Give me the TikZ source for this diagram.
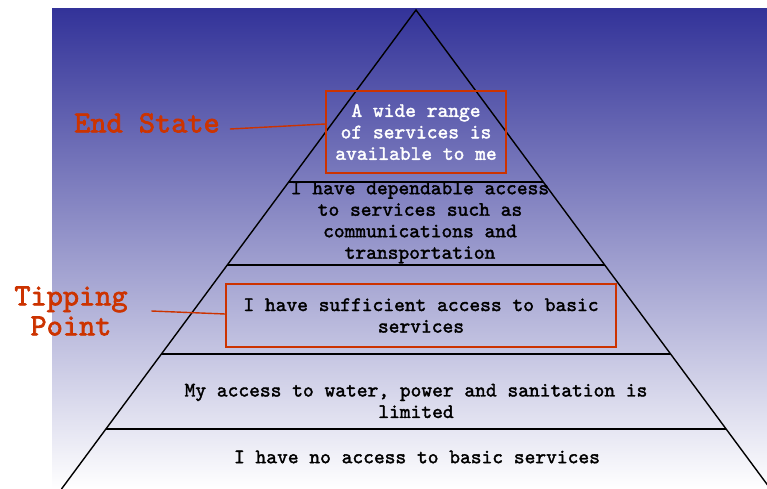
\documentclass[tikz,border=0pt]{standalone}
\usepackage{fontspec}
\newfontfamily\heavymono{lmmono10-regular}[Extension=.otf, FakeBold=1.8]
\newfontfamily\heavymonobig{lmmono10-regular}[Extension=.otf, FakeBold=2.2]
\definecolor{navy}{RGB}{51,51,153}
\definecolor{midlav}{RGB}{175,175,212}
\definecolor{accent}{RGB}{204,51,0}
\begin{document}
\begin{tikzpicture}[x=1pt,y=-1pt,
  tier/.style={font=\heavymono\fontsize{20.5}{21.5}\selectfont, align=center, inner sep=0pt},
  callout/.style={draw=accent, line width=1.6pt, font=\heavymono\fontsize{20.5}{21.5}\selectfont, align=center, inner sep=0pt},
  lbl/.style={font=\heavymonobig\fontsize{30.8}{30}\selectfont, text=accent, align=center, inner sep=0pt},
  conn/.style={draw=accent, line width=1.4pt},
  level/.style={line width=2pt},
  side/.style={line width=1.4pt}]
\useasboundingbox (0,0) rectangle (767,489);
\shade[top color=navy, middle color=midlav, bottom color=white] (52,9) rectangle (767,489);
% pyramid
\coordinate (apex) at (416,10);
\coordinate (bl) at (61.5,489);
\coordinate (br) at (770.5,489);
\draw[side] (bl) -- (apex) -- (br);
\draw[level] (288.7,182) -- (543.3,182);
\draw[level] (227.3,265) -- (604.7,265);
\draw[level] (161.4,354) -- (670.6,354);
\draw[level] (106,429) -- (726,429);
% tier texts
\node[tier] (t5) at (417,457) {I have no access to basic services};
\node[tier] (t4) at (416,401) {My access to water, power and sanitation is\\limited};
\node[tier] (t2) at (420,222.5) {I have dependable access\\to services such as\\communications and\\transportation};
% callout boxes
\node[callout, minimum width=180pt, minimum height=82pt, text=white] (box1) at (416,132) {A wide range\\of services is\\available to me};
\node[callout, minimum width=390pt, minimum height=63pt, text=black] (box2) at (421,315.5) {I have sufficient access to basic\\services};
% labels
\node[lbl] (endlbl) at (147,123) {End State};
\node[lbl] (tiplbl) at (71,311) {Tipping\\Point};
\draw[conn] ([xshift=10pt,yshift=-6pt]endlbl.east) -- ([yshift=8pt]box1.west);
\draw[conn] ([xshift=23.5pt]tiplbl.east) -- ([yshift=1.5pt]box2.west);
\end{tikzpicture}
\end{document}
